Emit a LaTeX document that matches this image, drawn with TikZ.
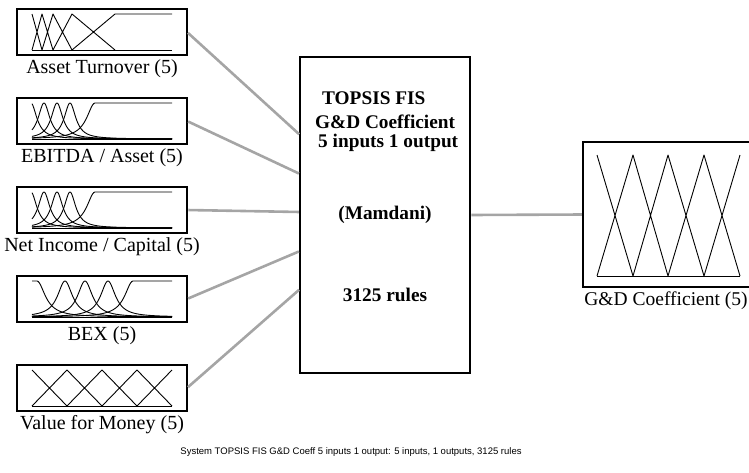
\documentclass[tikz,border=0pt]{standalone}
\usepackage{fontspec}
\setmainfont{Liberation Serif}
\setsansfont{Liberation Sans}
\usetikzlibrary{positioning}
\definecolor{linkgray}{RGB}{165,165,165}

\begin{document}
\begin{tikzpicture}[
    x=1pt, y=-1pt,
    node distance=43pt,
    inbox/.style={rectangle, draw, line width=2.6pt, outer sep=0pt, inner sep=0pt, minimum width=170pt, minimum height=46pt},
    fisbox/.style={rectangle, draw, line width=2.4pt, outer sep=0pt, inner sep=0pt, minimum width=170pt, minimum height=316pt},
    outbox/.style={rectangle, draw, line width=2.6pt, outer sep=0pt, inner sep=0pt, minimum width=172pt, minimum height=145pt},
    varlabel/.style={font=\fontsize{20}{22}\selectfont, inner sep=0pt},
    fistext/.style={font=\fontsize{19.3}{21}\selectfont\bfseries, inner sep=0pt},
    link/.style={draw=linkgray, line width=2.6pt, shorten <=1.3pt, shorten >=1.2pt},
    mf/.style={line width=0.9pt, line join=round},
    declare function={
        sq(\tv)=\tv*\tv;
        bell(\xv,\cv,\wv)=1/(1+sq(min(abs(\xv-\cv)/\wv,100)));
        lsh(\xv,\cv,\wv)=1/(1+sq(min(max(\xv-\cv,0)/\wv,100)));
        rsh(\xv,\cv,\wv)=1/(1+sq(min(max(\cv-\xv,0)/\wv,100)));
    }
]
    \useasboundingbox (0,0) rectangle (749,472);

    % input variables
    \node[inbox] (asset) at (102,32) {};
    \node[inbox, below=of asset] (ebitda) {};
    \node[inbox, below=of ebitda] (income) {};
    \node[inbox, below=of income] (bex) {};
    \node[inbox, below=of bex] (money) {};

    \node[varlabel, below=4.5pt of asset] (assetlbl) {Asset Turnover (5)};
    \node[varlabel, below=4.5pt of ebitda] (ebitdalbl) {EBITDA / Asset (5)};
    \node[varlabel, below=4.5pt of income] (incomelbl) {Net Income / Capital (5)};
    \node[varlabel, below=4.5pt of bex] (bexlbl) {BEX (5)};
    \node[varlabel, below=4.5pt of money] (moneylbl) {Value for Money (5)};

    % fis block
    \node[fisbox] (fis) at (385,215) {};
    \node[fistext, anchor=west] (fisname) at (322,98) {TOPSIS FIS};
    \node[fistext, anchor=west] (fisout) at (315,122) {G\&D Coefficient};
    \node[fistext, anchor=west] (fisio) at (318,143) {5 inputs 1 output};
    \node[fistext] (fistype) at (385,215) {(Mamdani)};
    \node[fistext] (fisrules) at (385,295) {3125 rules};

    % output variable
    \node[outbox] (coeff) at (669,214.5) {};
    \node[varlabel, font=\fontsize{19.5}{21}\selectfont, below=4.5pt of coeff, xshift=-3pt] (coefflbl) {G\&D Coefficient (5)};

    \draw[link] (asset.east) -- ([yshift=80pt]fis.west);
    \draw[link] (ebitda.east) -- ([yshift=41pt]fis.west);
    \draw[link] (income.east) -- ([yshift=3pt]fis.west);
    \draw[link] (bex.east) -- ([yshift=-36pt]fis.west);
    \draw[link] (money.east) -- ([yshift=-74pt]fis.west);
    \draw[link] (fis.east) -- (coeff.west);

    % membership functions
    \begin{scope}[shift={(asset.north west)}]
        \draw[mf] (15,5) -- (25,41) (15,41) -- (25,5) -- (36,41) (25,41) -- (36,5) -- (55,41)
                  (36,41) -- (55,5) -- (98,41) (55,41) -- (98,5) -- (155,5);
        \draw[mf] (15,41) -- (155,41);
    \end{scope}
    \begin{scope}[shift={(ebitda.north west)}]
        \draw[mf] plot[domain=15:155, samples=141] (\x, {41-36*lsh(\x,14,7)});
        \foreach \cen in {27,40,53}
            \draw[mf] plot[domain=15:155, samples=141] (\x, {41-36*bell(\x,\cen,7)});
        \draw[mf] plot[domain=15:155, samples=141] (\x, {41-36*rsh(\x,78,10)});
        \draw[mf] (15,41) -- (155,41);
    \end{scope}
    \begin{scope}[shift={(income.north west)}]
        \draw[mf] plot[domain=15:155, samples=141] (\x, {41-36*lsh(\x,14,7)});
        \foreach \cen in {27,40,53}
            \draw[mf] plot[domain=15:155, samples=141] (\x, {41-36*bell(\x,\cen,7)});
        \draw[mf] plot[domain=15:155, samples=141] (\x, {41-36*rsh(\x,78,10)});
        \draw[mf] (15,41) -- (155,41);
    \end{scope}
    \begin{scope}[shift={(bex.north west)}]
        \draw[mf] plot[domain=15:155, samples=141] (\x, {41-36*lsh(\x,20,10)});
        \foreach \cen in {48,68,91}
            \draw[mf] plot[domain=15:155, samples=141] (\x, {41-36*bell(\x,\cen,9)});
        \draw[mf] plot[domain=15:155, samples=141] (\x, {41-36*rsh(\x,116,10)});
        \draw[mf] (15,41) -- (155,41);
    \end{scope}
    \begin{scope}[shift={(money.north west)}]
        \draw[mf] (15,5) -- (50,41) (15,41) -- (50,5) -- (85,41) (50,41) -- (85,5) -- (120,41)
                  (85,41) -- (120,5) -- (155,41) (120,41) -- (155,5);
        \draw[mf] (15,41) -- (155,41);
    \end{scope}
    \begin{scope}[shift={(coeff.north west)}]
        \draw[mf] (14,13) -- (50,134) (14,134) -- (50,13) -- (85,134) (50,134) -- (85,13) -- (121,134)
                  (85,134) -- (121,13) -- (157,134) (121,134) -- (157,13);
        \draw[mf] (14,134) -- (157,134);
    \end{scope}

    \node[font=\sffamily\fontsize{9.5}{11}\selectfont] (caption) at (351,452)
        {System TOPSIS FIS G\&D Coeff 5 inputs 1 output: 5 inputs, 1 outputs, 3125 rules};
\end{tikzpicture}
\end{document}
